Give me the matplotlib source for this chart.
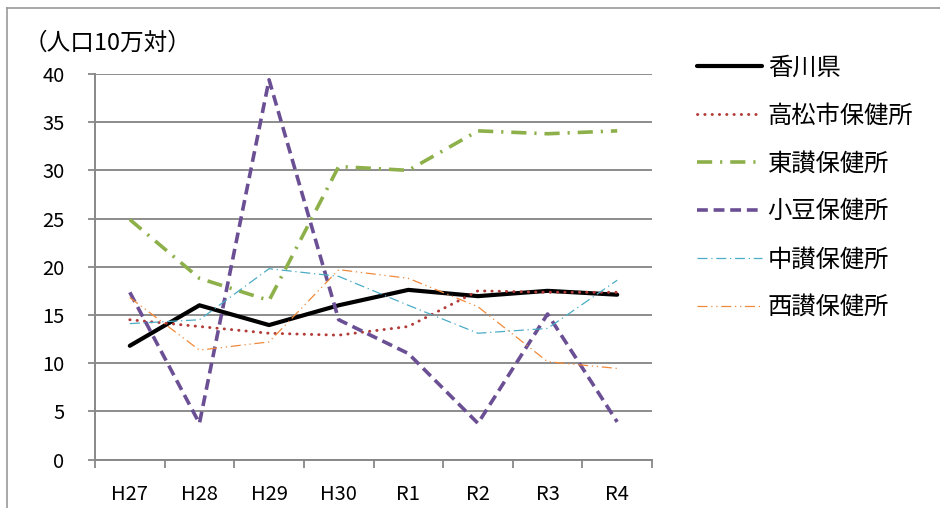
import matplotlib
matplotlib.use('Agg')
import matplotlib.pyplot as plt
from matplotlib.lines import Line2D

plt.rcParams['font.family'] = ['Noto Sans CJK JP', 'DejaVu Sans']

# data
years = ['H27', 'H28', 'H29', 'H30', 'R1', 'R2', 'R3', 'R4']
kagawa = [11.8, 16.0, 13.95, 16.0, 17.6, 16.95, 17.5, 17.1]
takamatsu = [14.5, 13.8, 13.1, 12.9, 13.8, 17.5, 17.35, 17.35]
tosan = [24.9, 18.8, 16.5, 30.4, 30.0, 34.1, 33.8, 34.1]
shodo = [17.35, 3.75, 39.4, 14.5, 11.0, 3.75, 15.1, 3.9]
chusan = [14.1, 14.5, 19.8, 19.0, 16.0, 13.1, 13.6, 18.6]
seisan = [16.8, 11.35, 12.2, 19.7, 18.8, 15.85, 10.15, 9.45]

labels = ['香川県', '高松市保健所', '東讃保健所', '小豆保健所', '中讃保健所', '西讃保健所']
series = [kagawa, takamatsu, tosan, shodo, chusan, seisan]
colors = ['#000000', '#B23B38', '#8DB04A', '#6B4F94', '#4BACC6', '#F08A3A']
widths = [3.0, 2.1, 2.6, 2.6, 0.9, 0.9]
dashes = [None, (0.1, 2.4), (4.2, 2.2, 0.6, 2.2), (3.0, 1.6),
          (8, 3, 1, 3), (8, 3, 1, 3, 1, 3)]

fig = plt.figure(figsize=(9.4, 5.08), dpi=100)
ax = fig.add_axes([95 / 940, 1 - 459.5 / 508, (652 - 95) / 940, (459.5 - 74) / 508])

x = list(range(len(years)))
handles = []
for vals, lab, c, w, d in zip(series, labels, colors, widths, dashes):
    line, = ax.plot(x, vals, color=c, lw=w, label=lab, solid_capstyle='round',
                    solid_joinstyle='round')
    if d is not None:
        line.set_dashes(d)
        if lab == '高松市保健所':
            line.set_dash_capstyle('round')
    handles.append(line)

ax.set_xlim(-0.5, 7.5)
ax.set_ylim(0, 40)
ax.set_yticks(range(0, 41, 5))
ax.set_xticks(x)
ax.set_xticklabels(years)
ax.set_xticks([i - 0.5 for i in range(len(years) + 1)], minor=True)
ax.tick_params(axis='x', which='major', length=0, pad=18, labelsize=14.5)
ax.tick_params(axis='x', which='minor', length=6, width=1.3, color='#888888')
ax.tick_params(axis='y', length=5, width=1.3, color='#888888', pad=17, labelsize=14.5)
ax.grid(axis='y', color='#8c8c8c', lw=1.4)
ax.set_axisbelow(True)
for s in ['top', 'right']:
    ax.spines[s].set_visible(False)
for s in ['left', 'bottom']:
    ax.spines[s].set_color('#888888')
    ax.spines[s].set_linewidth(1.4)

fig.legend(handles=handles, loc='upper left', bbox_to_anchor=(687 / 940, 1 - 45 / 508),
           frameon=False, fontsize=17.5, handlelength=2.67, handletextpad=0.25,
           labelspacing=0.9, borderaxespad=0)

fig.text(24 / 940, 1 - 43 / 508, '（人口10万対）', fontsize=17, va='center', ha='left')

# chart frame (top and left edges visible)
fig.add_artist(Line2D([7 / 940, 1], [1 - 8 / 508, 1 - 8 / 508], color='#999999', lw=1.2))
fig.add_artist(Line2D([7 / 940, 7 / 940], [0, 1 - 8 / 508], color='#999999', lw=1.2))

fig.savefig('out.png', dpi=100)
